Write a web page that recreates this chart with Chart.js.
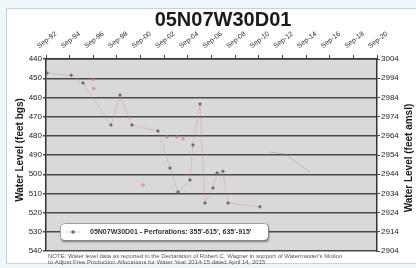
<!DOCTYPE html>
<html>
<head>
<meta charset="utf-8">
<style>
    html, body { margin: 0; padding: 0; background: #eef6f9; }
    canvas { display: block; filter: blur(0.3px); }
</style>
</head>
<body>
    <canvas id="myChart" width="416" height="268"></canvas>
    <!-- chartjs 라이브러리 연결 -->
    <script src="https://cdn.jsdelivr.net/npm/chart.js"></script>
    <script>
        const chartCanvas = document.querySelector('#myChart');

        // 텍스트
        const chartTitle = '05N07W30D01';
        const legendLabel = "05N07W30D01 - Perforations: 355'-615', 635'-915'";
        const leftAxisTitle = 'Water Level (feet bgs)';
        const rightAxisTitle = 'Water Level (feet amsl)';
        const noteLines = [
            "NOTE: Water level data as reported in the Declaration of Robert C. Wagner in support of Watermaster's Motion",
            'to Adjust Free Production Allocations for Water Year 2014-15 dated April 14, 2015'
        ];

        // x축 눈금 (9월 기준 소수 연도)
        const tickYears = [1992.67, 1994.67, 1996.67, 1998.67, 2000.67, 2002.67, 2004.67, 2006.67,
                           2008.67, 2010.67, 2012.67, 2014.67, 2016.67, 2018.67, 2020.67];
        const tickLabels = ['Sep-92', 'Sep-94', 'Sep-96', 'Sep-98', 'Sep-00', 'Sep-02', 'Sep-04', 'Sep-06',
                            'Sep-08', 'Sep-10', 'Sep-12', 'Sep-14', 'Sep-16', 'Sep-18', 'Sep-20'];
        // y축 눈금
        const depthTicks = [440, 450, 460, 470, 480, 490, 500, 510, 520, 530, 540];
        const elevTicks = [3004, 2994, 2984, 2974, 2964, 2954, 2944, 2934, 2924, 2914, 2904];

        // 측정값 (회색 점)
        const levelYears = [1992.75, 1994.8, 1995.8, 1998.17, 1998.93, 1999.94, 2002.14, 2003.16, 2003.84,
                            2004.85, 2005.1, 2005.7, 2006.12, 2006.8, 2007.14, 2007.64, 2008.07, 2010.77];
        const levelDepths = [447.3, 448.5, 452.5, 474.4, 458.8, 474.4, 477.5, 496.8, 509.3,
                             503, 484.8, 463.5, 515, 507.2, 499.4, 498.5, 515, 517];
        // 분홍 점
        const pinkYears = [1996.65, 1996.7, 2000.87, 2002.9, 2003.75, 2004.26];
        const pinkDepths = [450.5, 455.5, 505.6, 480.6, 480.6, 481.5];
        // 희미한 선
        const faintYears = [2011.6, 2012.9, 2015.0];
        const faintDepths = [488.5, 489.5, 499];

        const fontFamily = '"Liberation Sans", Arial, sans-serif';
        const toPoints = (xs, ys) => xs.map((x, i) => ({ x: x, y: ys[i] }));

        const framePlugin = {
            id: 'frame',
            beforeDraw(chart) {
                const { ctx, chartArea: a } = chart;
                ctx.save();
                ctx.fillStyle = '#eef6f9';
                ctx.fillRect(0, 0, chart.width, chart.height);
                ctx.fillStyle = '#ffffff';
                ctx.fillRect(6, 8, 410, 256);
                ctx.strokeStyle = '#c8d2d6';
                ctx.lineWidth = 1;
                ctx.strokeRect(6.5, 8.5, 412, 255);
                ctx.fillStyle = '#d9d9d9';
                ctx.fillRect(a.left, a.top, a.right - a.left, a.bottom - a.top);
                ctx.restore();
            },
            afterDraw(chart) {
                const { ctx } = chart;
                const xs = chart.scales.x;
                ctx.save();
                ctx.fillStyle = '#1a1a1a';

                // 제목
                ctx.font = 'bold 20px ' + fontFamily;
                ctx.textAlign = 'center';
                ctx.textBaseline = 'middle';
                ctx.fillText(chartTitle, 223, 20);

                // x축 라벨 (회전)
                ctx.font = '7px ' + fontFamily;
                ctx.fillStyle = '#2a2a2a';
                tickYears.forEach((yr, i) => {
                    const px = xs.getPixelForValue(yr);
                    ctx.save();
                    ctx.translate(px + 1, 40);
                    ctx.rotate(-38 * Math.PI / 180);
                    ctx.fillText(tickLabels[i], 0, 0);
                    ctx.restore();
                });

                // 축 제목
                ctx.font = 'bold 10px ' + fontFamily;
                ctx.fillStyle = '#1a1a1a';
                ctx.save();
                ctx.translate(20, 150);
                ctx.rotate(-Math.PI / 2);
                ctx.fillText(leftAxisTitle, 0, 0);
                ctx.restore();
                ctx.save();
                ctx.translate(409, 158);
                ctx.rotate(-Math.PI / 2);
                ctx.fillText(rightAxisTitle, 0, 0);
                ctx.restore();

                // 범례 박스
                const bx = 60, by = 223, bw = 208, bh = 17;
                ctx.save();
                ctx.shadowColor = 'rgba(0,0,0,0.45)';
                ctx.shadowOffsetX = 1;
                ctx.shadowOffsetY = 2;
                ctx.shadowBlur = 2;
                ctx.fillStyle = '#ffffff';
                ctx.beginPath();
                ctx.roundRect(bx, by, bw, bh, 4);
                ctx.fill();
                ctx.restore();
                ctx.strokeStyle = '#888';
                ctx.lineWidth = 0.8;
                ctx.beginPath();
                ctx.roundRect(bx + 0.5, by + 0.5, bw, bh, 4);
                ctx.stroke();
                ctx.strokeStyle = 'rgba(214,120,140,0.5)';
                ctx.beginPath();
                ctx.moveTo(66, 232);
                ctx.lineTo(80, 232);
                ctx.stroke();
                ctx.fillStyle = '#6a6a6a';
                ctx.beginPath();
                ctx.arc(73, 232, 1.8, 0, Math.PI * 2);
                ctx.fill();
                ctx.fillStyle = '#333';
                ctx.font = 'bold 7px ' + fontFamily;
                ctx.textAlign = 'left';
                ctx.fillText(legendLabel, 90, 232, 176);

                // 주석
                ctx.font = '6px ' + fontFamily;
                ctx.fillStyle = '#555';
                ctx.fillText(noteLines[0], 48, 256, 330);
                ctx.fillText(noteLines[1], 48, 262, 245);
                ctx.restore();
            }
        };

        const tickFont = { family: fontFamily, size: 8 };

        new Chart(chartCanvas, {
            type: 'scatter',
            data: {
                datasets: [{
                    label: legendLabel,
                    data: toPoints(levelYears, levelDepths),
                    showLine: true,
                    borderColor: 'rgba(214,120,140,0.3)',
                    borderWidth: 1,
                    pointStyle: 'rectRot',
                    pointRadius: 2,
                    pointBackgroundColor: '#6e6e6e',
                    pointBorderColor: '#6e6e6e',
                    pointBorderWidth: 0,
                    yAxisID: 'y'
                }, {
                    label: 'pink',
                    data: toPoints(pinkYears, pinkDepths),
                    showLine: false,
                    pointRadius: 1.8,
                    pointBackgroundColor: 'rgba(215,110,135,0.6)',
                    pointBorderWidth: 0,
                    yAxisID: 'y'
                }, {
                    label: 'faint',
                    data: toPoints(faintYears, faintDepths),
                    showLine: true,
                    borderColor: 'rgba(140,140,140,0.4)',
                    borderWidth: 1,
                    pointRadius: 0,
                    yAxisID: 'y'
                }]
            },
            options: {
                responsive: false,
                animation: false,
                layout: { padding: { bottom: 17 } },
                plugins: {
                    legend: { display: false },
                    tooltip: { enabled: false }
                },
                scales: {
                    x: {
                        type: 'linear',
                        position: 'top',
                        min: tickYears[0],
                        max: tickYears[tickYears.length - 1],
                        afterBuildTicks: s => { s.ticks = tickYears.map(v => ({ value: v })); },
                        afterFit: s => { s.height = 59; },
                        ticks: { display: false },
                        grid: { drawOnChartArea: false, drawTicks: true, tickLength: 4, color: '#444' },
                        border: { color: '#333', width: 1.5 }
                    },
                    y: {
                        position: 'left',
                        reverse: true,
                        min: 440,
                        max: 540,
                        afterBuildTicks: s => { s.ticks = depthTicks.map(v => ({ value: v })); },
                        afterFit: s => { s.width = 46; },
                        ticks: { font: tickFont, color: '#222', padding: 1, callback: v => String(v) },
                        grid: { color: '#4a4a4a', lineWidth: 1.4, tickLength: 3 },
                        border: { color: '#333', width: 1.5 }
                    },
                    y2: {
                        position: 'right',
                        min: 2904,
                        max: 3004,
                        afterBuildTicks: s => { s.ticks = elevTicks.map(v => ({ value: v })); },
                        afterFit: s => { s.width = 39; },
                        ticks: { font: tickFont, color: '#222', padding: 1, callback: v => String(v) },
                        grid: { drawOnChartArea: false, color: '#444', tickLength: 3 },
                        border: { color: '#333', width: 1.5 }
                    }
                }
            },
            plugins: [framePlugin]
        });
    </script>
</body>
</html>
